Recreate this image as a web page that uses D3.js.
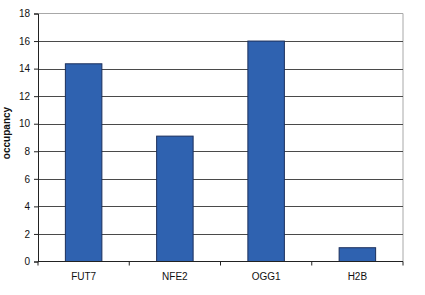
<!DOCTYPE html>
<html lang="en">
<head>
    <meta charset="UTF-8">
    <title>occupancy</title>
    <style>
        body { margin: 0; background: #fff; }
        text { font-family: "Liberation Sans", Arial, sans-serif; fill: #111; }
    </style>
</head>
<body>
<div id="chart"></div>
<script src="https://cdn.jsdelivr.net/npm/d3@7"></script>
<script>
    let categories = ['FUT7', 'NFE2', 'OGG1', 'H2B']
    let values = [14.35, 9.1, 16.0, 1.0]
    let yTicks = [0, 2, 4, 6, 8, 10, 12, 14, 16, 18]

    let width = 425, height = 295
    let m = {top: 13.5, right: 22, bottom: 33.5, left: 38}

    let svg = d3.select('#chart').append('svg')
        .attr('width', width)
        .attr('height', height)

    let x = d3.scaleBand()
        .domain(categories)
        .range([m.left, width - m.right])
        .paddingInner(0.6)
        .paddingOuter(0.3)

    let y = d3.scaleLinear()
        .domain([0, 18])
        .range([height - m.bottom, m.top])

    // plot frame (top + right)
    svg.append('path')
        .attr('d', `M${m.left},${m.top}H${width - m.right}V${height - m.bottom}`)
        .attr('fill', 'none')
        .attr('stroke', '#a8a8a8')
        .attr('stroke-width', 1)

    // gridlines
    svg.append('g')
        .selectAll('line')
        .data(yTicks.filter(d => d > 0 && d < 18))
        .enter()
        .append('line')
        .attr('x1', m.left)
        .attr('x2', width - m.right)
        .attr('y1', d => Math.round(y(d)) + 0.5)
        .attr('y2', d => Math.round(y(d)) + 0.5)
        .attr('stroke', '#4a4a4a')
        .attr('stroke-width', 1)

    // bars
    svg.append('g')
        .selectAll('rect')
        .data(values)
        .enter()
        .append('rect')
        .attr('x', (d, i) => x(categories[i]))
        .attr('y', d => y(d))
        .attr('width', x.bandwidth())
        .attr('height', d => y(0) - y(d))
        .attr('fill', '#2f62b0')
        .attr('stroke', '#1b2f5c')
        .attr('stroke-width', 1)

    // y axis
    let yAxis = svg.append('g')
        .attr('transform', `translate(${m.left},0)`)
        .call(d3.axisLeft(y).tickValues(yTicks).tickSize(4).tickPadding(4))
    yAxis.selectAll('path, line').attr('stroke', '#222')
    yAxis.selectAll('text').style('font-size', '10px').attr('fill', '#111')

    // x axis: ticks at category boundaries
    let xBottom = y(0)
    let bounds = [m.left].concat(categories.map((c, i) => m.left + (i + 1) * (width - m.right - m.left) / categories.length))
    svg.append('line')
        .attr('x1', m.left).attr('x2', width - m.right)
        .attr('y1', xBottom).attr('y2', xBottom)
        .attr('stroke', '#222')
    svg.append('g')
        .selectAll('line')
        .data(bounds)
        .enter()
        .append('line')
        .attr('x1', d => d).attr('x2', d => d)
        .attr('y1', xBottom).attr('y2', xBottom + 4)
        .attr('stroke', '#222')

    svg.append('g')
        .selectAll('text')
        .data(categories)
        .enter()
        .append('text')
        .attr('x', d => x(d) + x.bandwidth() / 2)
        .attr('y', xBottom + 18)
        .attr('text-anchor', 'middle')
        .style('font-size', '10px')
        .text(d => d)

    // y label
    svg.append('text')
        .attr('transform', `translate(10,133) rotate(-90)`)
        .attr('text-anchor', 'middle')
        .style('font-size', '10px')
        .style('font-weight', 'bold')
        .text('occupancy')
</script>
</body>
</html>
